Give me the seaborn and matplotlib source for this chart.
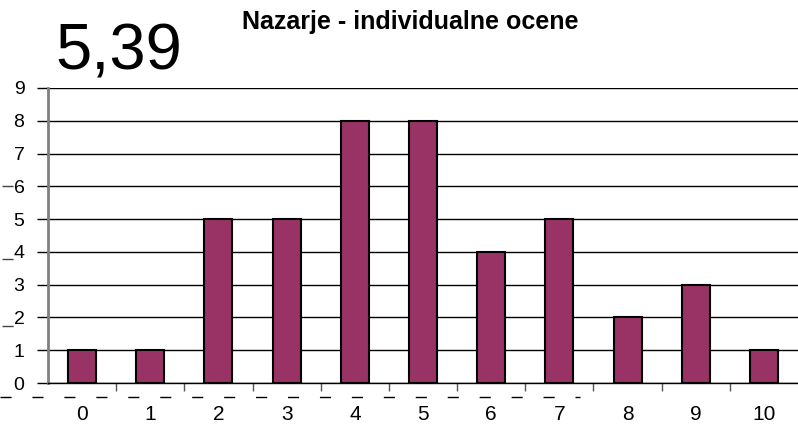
import matplotlib
matplotlib.use("Agg")
import matplotlib.pyplot as plt
import seaborn as sns
import pandas as pd
from matplotlib.lines import Line2D
from matplotlib.ticker import MultipleLocator, FixedLocator

ocene = ['0', '1', '2', '3', '4', '5', '6', '7', '8', '9', '10']
stevilo = [1, 1, 5, 5, 8, 8, 4, 5, 2, 3, 1]
povprecje = '5,39'
naslov = 'Nazarje - individualne ocene'

sns.set_style('white')
plt.rcParams['font.family'] = ['Liberation Sans', 'DejaVu Sans']
plt.rcParams['text.color'] = 'black'
plt.rcParams['xtick.color'] = 'black'
plt.rcParams['ytick.color'] = 'black'

df = pd.DataFrame({'ocena': ocene, 'n': stevilo})

fig = plt.figure(figsize=(7.98, 4.25), dpi=100)
ax = fig.add_axes([48 / 798, 1 - 383 / 425, 750 / 798, (383 - 88) / 425])

ax.yaxis.grid(True, color='black', linewidth=1)
ax.set_axisbelow(True)
sns.barplot(data=df, x='ocena', y='n', order=ocene, color='#993366', saturation=1,
            width=0.41, edgecolor='black', linewidth=1.5, ax=ax)

ax.set_ylim(0, 9)
ax.set_xlim(-0.5, 10.5)
ax.yaxis.set_major_locator(MultipleLocator(1))
ax.set_xlabel('')
ax.set_ylabel('')

for s in ['top', 'right']:
    ax.spines[s].set_visible(False)
ax.spines['left'].set_color('#808080')
ax.spines['left'].set_linewidth(2)
ax.spines['bottom'].set_color('black')
ax.spines['bottom'].set_linewidth(1)

ax.tick_params(axis='y', which='major', direction='out', length=8, width=1,
               color='black', labelsize=14, pad=9, left=True)
ax.tick_params(axis='x', which='major', length=0, labelsize=15, pad=16)
ax.xaxis.set_minor_locator(FixedLocator([i + 0.5 for i in range(10)]))
ax.tick_params(axis='x', which='minor', direction='in', length=6, width=1,
               color='#555555', bottom=True)
for t in ax.xaxis.get_minorticklines():
    t.set_marker(3)
    t.set_markersize(6)

fig.text(410 / 798, 1 - 22 / 425, naslov, ha='center', va='center',
         fontsize=18, fontweight='bold')
fig.text(55 / 798, 1 - 70 / 425, povprecje, ha='left', va='baseline', fontsize=47)

# dashed remnants on the left and along the bottom
fig.add_artist(Line2D([0, 580 / 798], [1 - 397 / 425] * 2, transform=fig.transFigure,
                      color='black', linewidth=1, dashes=(8, 15)))
for yy in [186, 259, 326]:
    fig.add_artist(Line2D([2 / 798, 34 / 798], [1 - yy / 425] * 2, transform=fig.transFigure,
                          color='#444444', linewidth=1, dashes=(8, 16)))

fig.savefig('out.png', dpi=100)
